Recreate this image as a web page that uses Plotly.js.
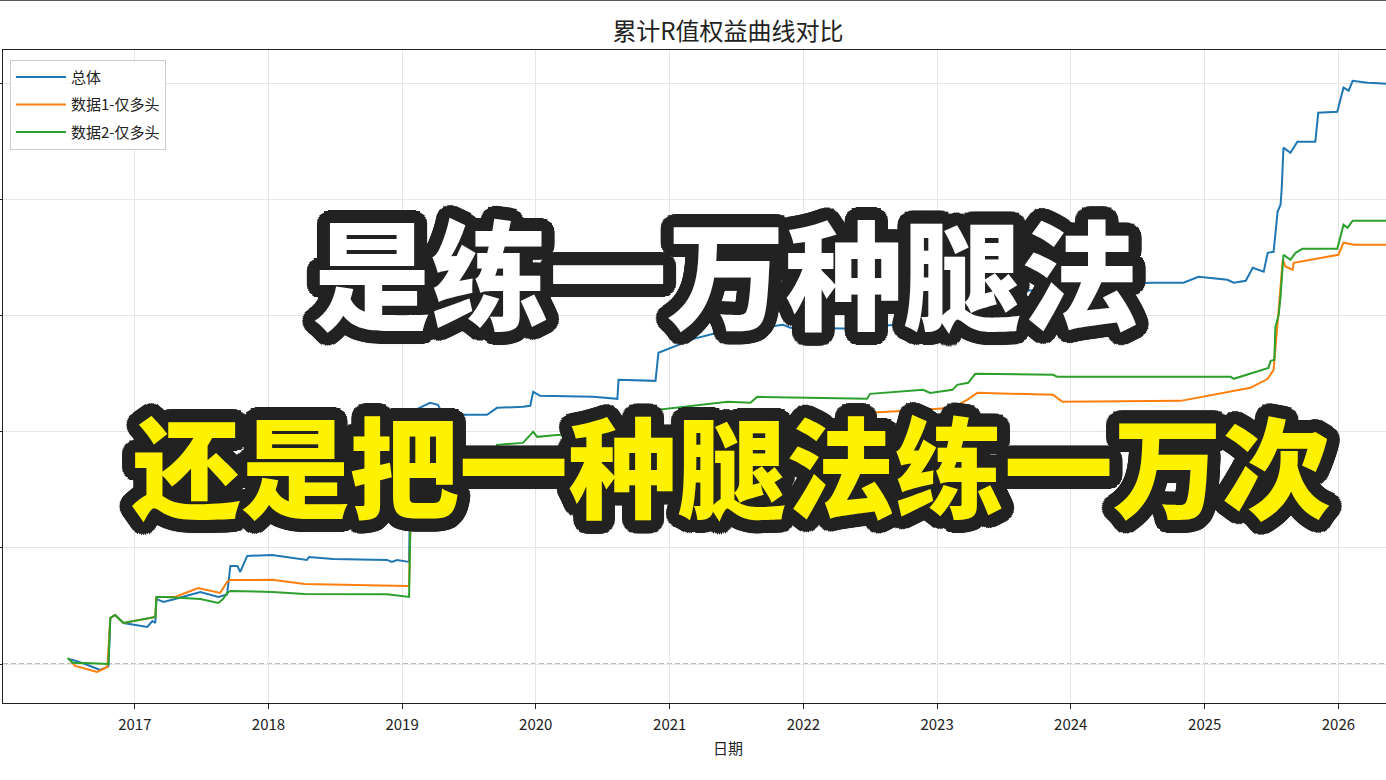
<!DOCTYPE html>
<html>
<head>
<meta charset="utf-8">
<script src="https://cdn.plot.ly/plotly-3.0.1.min.js"></script>
<style>
html,body{margin:0;padding:0;overflow:hidden;background:#fff;width:1386px;height:780px;}
#chart{position:absolute;left:-60px;top:0;width:1513px;height:780px;}
</style>
</head>
<body>
<div id="chart"></div>
<script>
// ---- data ----
const chartTitle = "累计R值权益曲线对比";
const xTitle = "日期";
const seriesNames = ["总体", "数据1-仅多头", "数据2-仅多头"];
const overlayLine1 = "是练一万种腿法";
const overlayLine2 = "还是把一种腿法练一万次";

const totalDates = ['2016-07-02','2016-07-16','2016-08-18','2016-09-28','2016-10-18','2016-10-21','2016-10-26','2016-11-08','2016-12-01','2017-02-04','2017-02-18','2017-02-26','2017-03-01','2017-03-20','2017-04-21','2017-06-29','2017-08-17','2017-09-10','2017-09-19','2017-10-08','2017-10-16','2017-11-04','2018-01-11','2018-04-10','2018-04-16','2018-04-22','2018-06-26','2018-11-21','2018-12-04','2018-12-18','2019-01-20','2019-01-26','2019-03-18','2019-04-09','2019-04-23','2019-08-21','2019-09-17','2019-11-27','2019-12-17','2019-12-25','2020-01-13','2020-06-06','2020-08-11','2020-08-14','2020-11-23','2020-12-01','2021-03-07','2021-04-30','2021-11-07','2021-11-26','2022-06-05','2022-07-02','2022-11-24','2023-02-12','2023-02-25','2023-03-27','2023-04-15','2023-11-25','2023-12-09','2024-08-06','2024-11-04','2024-12-15','2025-03-04','2025-03-21','2025-04-23','2025-05-12','2025-06-11','2025-06-22','2025-07-08','2025-07-19','2025-07-27','2025-07-30','2025-08-04','2025-08-23','2025-09-11','2025-10-30','2025-11-07','2025-12-29','2026-01-07','2026-01-15','2026-01-29','2026-02-09','2026-03-22','2026-05-15'];
const totalValues = [0.86,0.69,0.0,-1.03,-0.52,-0.34,7.93,8.45,7.07,6.38,7.41,7.07,11.21,10.69,11.2,12.41,11.55,12.0,16.9,16.9,15.86,18.62,18.8,18.1,17.93,18.45,18.1,17.93,17.59,17.9,17.59,43.45,45.0,44.66,42.93,42.93,44.14,44.31,44.5,46.9,46.21,46.03,45.69,48.97,48.79,53.62,56.03,56.9,58.45,57.93,57.76,58.1,58.8,59.7,61.0,62.8,64.5,64.3,64.8,65.69,65.69,66.72,66.21,65.69,66.03,68.28,67.59,70.86,71.03,77.93,79.14,81.72,88.97,88.10,90.0,90.0,95.0,95.17,97.24,99.31,98.79,100.5,100.17,100.0];

const data1Dates = ['2016-07-07','2016-07-22','2016-09-20','2016-10-18','2016-10-26','2016-11-08','2016-12-01','2017-02-21','2017-02-26','2017-03-01','2017-04-21','2017-06-23','2017-07-20','2017-08-22','2017-09-10','2017-09-19','2018-01-11','2018-04-10','2019-01-15','2019-01-20','2019-01-26','2019-08-29','2019-09-17','2019-12-25','2020-11-28','2021-08-28','2022-06-05','2022-07-02','2022-11-24','2023-02-12','2023-03-24','2023-04-21','2023-11-14','2023-11-25','2023-12-09','2024-10-27','2025-05-06','2025-06-22','2025-07-08','2025-07-19','2025-08-02','2025-08-10','2025-08-29','2025-09-01','2026-01-01','2026-01-15','2026-02-12','2026-05-15'];
const data1Values = [0.7,-0.34,-1.38,-0.52,7.93,8.45,7.07,8.1,8.1,11.55,11.55,13.10,12.76,12.24,14.14,14.48,14.5,13.79,13.45,13.45,30.52,30.69,33.5,35.5,37.5,38.5,39.0,43.28,43.79,44.14,45.52,46.72,46.38,45.86,45.17,45.34,47.59,49.14,50.69,58.79,69.66,68.45,67.93,69.14,70.52,72.59,72.24,72.24];

const data2Dates = ['2016-07-02','2016-07-16','2016-08-18','2016-10-21','2016-10-26','2016-11-08','2016-12-01','2017-02-21','2017-02-26','2017-03-01','2017-03-25','2017-06-29','2017-08-17','2017-08-30','2017-09-10','2017-09-19','2018-01-11','2018-04-10','2018-11-21','2019-01-20','2019-01-26','2019-08-21','2019-09-17','2019-11-27','2019-12-25','2020-01-05','2020-02-28','2020-08-11','2020-11-23','2020-11-28','2021-06-08','2021-08-09','2021-08-28','2022-06-24','2022-07-02','2022-11-24','2022-12-13','2023-02-12','2023-02-25','2023-03-27','2023-04-15','2023-11-14','2023-11-25','2025-03-13','2025-03-21','2025-06-24','2025-06-30','2025-07-10','2025-07-13','2025-07-22','2025-07-27','2025-08-04','2025-08-23','2025-09-06','2025-09-25','2025-12-29','2026-01-15','2026-01-26','2026-02-09','2026-05-15'];
const data2Values = [1.03,0.17,0.17,0.0,7.93,8.45,7.07,8.1,8.1,11.55,11.55,11.21,10.52,11.2,12.24,12.59,12.41,12.07,12.0,11.55,32.41,32.76,37.76,38.1,40.0,39.14,39.48,39.66,40.0,43.79,45.17,45.0,46.03,45.69,46.55,47.24,46.72,47.24,48.1,48.45,50.0,49.83,49.48,49.48,49.14,51.03,52.24,52.4,58.1,60.17,63.28,70.52,69.66,70.86,71.55,71.55,75.69,75.17,76.38,76.38];

const colors = ['#1f77b4', '#ff7f0e', '#2ca02c'];

// ---- styling helpers ----
function strokeShadow(radii, color, glow) {
  const parts = [];
  radii.forEach(r => {
    const n = 40;
    for (let i = 0; i < n; i++) {
      const a = i * 2 * Math.PI / n;
      parts.push((r * Math.cos(a)).toFixed(1) + 'px ' + (r * Math.sin(a)).toFixed(1) + 'px 0 ' + color);
    }
  });
  parts.push(glow);
  return parts.join(', ');
}
const outline = strokeShadow([13, 8, 4], '#222222', '0px 3px 14px rgba(0,0,0,0.55)');

const traces = [
  {x: totalDates, y: totalValues, name: seriesNames[0]},
  {x: data1Dates, y: data1Values, name: seriesNames[1]},
  {x: data2Dates, y: data2Values, name: seriesNames[2]}
].map((t, i) => Object.assign(t, {
  type: 'scatter', mode: 'lines', legendgroup: 'g' + i,
  line: {color: colors[i], width: 2}
}));

const baseFont = {family: '"Noto Sans CJK SC", "Noto Sans", sans-serif', color: '#222'};

const layout = {
  width: 1513, height: 780,
  margin: {l: 63, r: 0, t: 50, b: 77},
  paper_bgcolor: '#fff', plot_bgcolor: '#fff',
  font: Object.assign({size: 15}, baseFont),
  title: {text: chartTitle, x: 0.5, xref: 'paper', xanchor: 'center', y: 1 - 32/780, yref: 'container', yanchor: 'middle',
          font: Object.assign({size: 24}, baseFont)},
  xaxis: {
    type: 'date', range: ['2016-01-07', '2026-11-10'],
    tick0: '2017-01-01', dtick: 'M12', tickformat: '%Y',
    ticks: 'outside', ticklen: 5, tickcolor: '#222', tickwidth: 1,
    ticklabelstandoff: 3,
    showline: true, linecolor: '#222', linewidth: 1.3, mirror: true,
    showgrid: true, gridcolor: '#e6e6e6', gridwidth: 1, zeroline: false,
    tickfont: Object.assign({size: 15}, baseFont),
    title: {text: xTitle, standoff: 10, font: Object.assign({size: 15}, baseFont)}
  },
  yaxis: {
    range: [-6.72, 105.8], tick0: 0, dtick: 20,
    ticks: 'outside', ticklen: 5, tickcolor: '#222',
    showticklabels: false,
    showline: true, linecolor: '#222', linewidth: 1.3, mirror: true,
    showgrid: true, gridcolor: '#e6e6e6', gridwidth: 1, zeroline: false
  },
  showlegend: true,
  legend: {
    x: 0.0048, y: 0.985, xanchor: 'left', yanchor: 'top',
    bgcolor: 'rgba(255,255,255,0.85)', bordercolor: '#cccccc', borderwidth: 1,
    font: Object.assign({size: 15}, baseFont), tracegroupgap: 5, itemwidth: 50
  },
  shapes: [
    {type: 'line', xref: 'paper', x0: 0, x1: 1, yref: 'y', y0: 0, y1: 0,
     line: {color: '#777777', width: 1, dash: '5px,3px'}, layer: 'below'},
    {type: 'line', xref: 'paper', x0: -0.1, x1: 1.1, yref: 'paper', y0: 1.0766, y1: 1.0766,
     line: {color: '#222', width: 1.5}}
  ],
  annotations: [
    {text: overlayLine1, xref: 'paper', yref: 'paper', x: 0.4987, y: 0.6636, xanchor: 'center', yanchor: 'middle', showarrow: false,
     font: {family: '"Noto Sans CJK SC", sans-serif', size: 118, weight: 900, color: '#ffffff', shadow: outline}},
    {text: overlayLine2, xref: 'paper', yref: 'paper', x: 0.5027, y: 0.368, xanchor: 'center', yanchor: 'middle', showarrow: false,
     font: {family: '"Noto Sans CJK SC", sans-serif', size: 109, weight: 900, color: '#fff200', shadow: outline}}
  ]
};

Plotly.newPlot('chart', traces, layout, {displayModeBar: false, staticPlot: true});
</script>
</body>
</html>
